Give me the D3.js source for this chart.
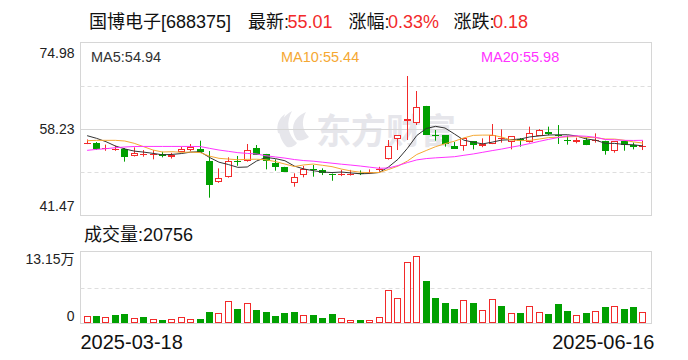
<!DOCTYPE html>
<html><head><meta charset="utf-8">
<script src="https://cdn.jsdelivr.net/npm/d3@7"></script>
<style>
body{margin:0;background:#fff}
svg{display:block}
text{font-family:"Liberation Sans","Noto Sans CJK SC",sans-serif}
</style>
</head><body><svg id="c" width="688" height="360"></svg>
<script>
const dates = ["2025-03-18","2025-03-19","2025-03-20","2025-03-21","2025-03-24","2025-03-25","2025-03-26","2025-03-27","2025-03-28","2025-03-31",
"2025-04-01","2025-04-02","2025-04-03","2025-04-07","2025-04-08","2025-04-09","2025-04-10","2025-04-11","2025-04-14","2025-04-15",
"2025-04-16","2025-04-17","2025-04-18","2025-04-21","2025-04-22","2025-04-23","2025-04-24","2025-04-25","2025-04-28","2025-04-29",
"2025-04-30","2025-05-06","2025-05-07","2025-05-08","2025-05-09","2025-05-12","2025-05-13","2025-05-14","2025-05-15","2025-05-16",
"2025-05-19","2025-05-20","2025-05-21","2025-05-22","2025-05-23","2025-05-26","2025-05-27","2025-05-28","2025-05-29","2025-05-30",
"2025-06-03","2025-06-04","2025-06-05","2025-06-06","2025-06-09","2025-06-10","2025-06-11","2025-06-12","2025-06-13","2025-06-16"];
const opens = [55.45,55.5,54.5,54.3,54.28,52.93,53.3,53.3,53.32,52.86,
53.77,54.09,54.35,52.02,47.89,48.86,52.1,51.96,54.48,53.32,
51.7,50.8,47.7,49.25,50.48,50.35,49.55,49.3,49.45,49.65,
49.75,50.2,52.35,56.35,59.84,59.32,62.68,57.05,57.0,54.87,
54.87,55.83,54.87,55.38,56.4,55.65,56.2,55.7,56.93,57.64,
57.05,56.05,55.7,56.09,55.83,55.9,54.02,55.83,55.06,54.95];
const highs = [56.2,55.7,55.2,55.0,54.54,54.67,54.15,54.15,53.83,53.6,
54.8,55.32,55.96,53.96,50.6,52.74,53.0,55.32,55.12,53.4,
52.35,50.9,49.64,51.06,51.25,50.6,49.6,50.3,50.3,50.2,
50.4,50.9,56.09,57.0,68.49,65.58,62.7,58.03,57.0,55.7,
56.41,55.83,56.41,59.19,58.16,56.8,56.48,58.68,58.2,58.68,
58.99,56.93,56.55,56.6,57.38,55.95,55.9,55.9,55.6,55.96];
const lows = [55.3,54.2,54.0,54.0,51.9,52.9,52.86,52.35,52.73,52.5,
53.7,53.9,53.7,44.92,47.8,48.8,51.1,51.9,53.2,50.41,
50.15,49.9,47.05,48.86,48.99,49.3,48.2,49.1,49.2,49.3,
49.5,49.96,52.3,54.15,56.09,59.0,57.1,55.96,54.8,54.41,
54.02,54.28,54.7,55.3,55.58,54.28,54.8,55.6,56.9,57.0,
55.32,55.19,55.45,55.1,55.58,53.25,53.64,54.02,54.28,54.15];
const closes = [55.6,54.35,54.6,54.4,52.87,53.51,53.35,53.4,52.99,53.25,
54.35,54.74,53.77,47.44,48.67,52.09,52.0,54.15,53.25,52.09,
50.93,49.96,48.99,50.48,50.4,49.63,49.45,49.5,49.6,49.55,
49.95,50.4,54.87,57.0,60.16,62.42,57.13,57.0,55.32,54.41,
56.41,55.19,55.38,57.0,56.4,56.78,55.9,57.38,57.96,57.32,
56.95,55.95,56.09,55.15,56.09,54.02,55.83,55.06,54.83,55.01];
const volumes = [13500,12300,11600,14100,15900,9800,10400,8000,4900,8000,
11600,8000,6700,19600,19000,41100,25100,37400,23300,19600,
12300,17800,19600,15300,14100,8600,15900,9800,6100,4900,
6100,11600,61300,46600,112800,122600,76600,45400,36200,25100,
42900,36200,24500,44700,30600,19000,17800,31900,20800,15900,
34300,21500,15300,17800,22700,28800,31900,25100,28800,20756];
// moving-average values before enough in-view closes exist
const ma5Head = [56.93,56.42,55.77,54.93];
const ma10Head = [55.96,56.03,56.03,56.03,55.9,55.45,54.8,54.15,53.77];
const ma20Head = [54.09,54.28,54.41,54.6,54.74,54.83,54.85,54.85,54.85,54.85,54.85,54.85,54.83,54.48,54.15,53.9,53.64,53.5,53.38];
const priceTicks = [74.98,58.23,41.47];
const volMax = 131500;
const volTicks = [131500,0];
const volTickLabels = ["13.15万","0"];
const titleName = "国博电子[688375]";
const titleFields = [["最新:","55.01"],["涨幅:","0.33%"],["涨跌:","0.18"]];
const maLabels = ["MA5:54.94","MA10:55.44","MA20:55.98"];
const volLabel = "成交量:20756";
const watermark = "东方财富";

const RED = "#f22a2a", GREEN = "#00a000";
const MA_COLORS = ["#333333","#f5a833","#ff33ff"];
const GRID = "#d6d6d6", DASH = "#dedede";

const svg = d3.select("#c");
const P = {l:80.5, r:651.5, t:42.5, b:215.5};
const V = {t:251.5, b:323.5};
const n = closes.length;

const x = d3.scaleBand().domain(d3.range(n)).range([82.4, 647.6]).paddingInner(0.22).paddingOuter(0.11);
const y = d3.scaleLinear().domain([priceTicks[2], priceTicks[0]]).range([P.b, P.t]);
const vy = d3.scaleLinear().domain([0, volMax]).range([V.b - 0.5, V.t]);
const bw = Math.round(x.bandwidth());
const left = i => Math.round(x(i) + x.bandwidth()/2 - bw/2);

// watermark
const wm = svg.append("g").attr("fill","#e6e6eb");
wm.append("path").attr("d","M287 147 C276 136 276 120 292 111 C286 122 287 134 297 143 C295 146 291 148 287 147 Z");
wm.append("path").attr("d","M297 140 C290 130 292 118 306 112 C301 121 302 130 309 137 C305 140 301 141 297 140 Z");
wm.append("path").attr("d","M278 133 C276 125 279 118 285 114 C282 122 283 128 286 135 Z");
wm.append("text").attr("x",316).attr("y",144).attr("font-size",35).attr("font-weight","bold")
  .attr("font-family","'Noto Sans CJK SC',sans-serif").text(watermark);

// frames and grid
function frame(t,b){
  svg.append("rect").attr("x",P.l).attr("y",t).attr("width",P.r-P.l).attr("height",b-t)
    .attr("fill","none").attr("stroke",GRID);
}
frame(P.t,P.b); frame(V.t,V.b);
const q = (P.b-P.t)/4;
[1,3].forEach(k=>svg.append("line").attr("x1",P.l).attr("x2",P.r).attr("y1",Math.round(P.t+k*q)+0.5).attr("y2",Math.round(P.t+k*q)+0.5)
  .attr("stroke",DASH).attr("stroke-dasharray","4,3"));
svg.append("line").attr("x1",P.l).attr("x2",P.r).attr("y1",Math.round(y(priceTicks[1]))+0.5).attr("y2",Math.round(y(priceTicks[1]))+0.5).attr("stroke",GRID);
const vm = Math.round((V.t+V.b)/2)+0.5;
svg.append("line").attr("x1",P.l).attr("x2",P.r).attr("y1",vm).attr("y2",vm).attr("stroke",DASH).attr("stroke-dasharray","4,3");

// candles
const cg = svg.append("g");
for(let i=0;i<n;i++){
  const up = closes[i] >= opens[i];
  const col = up ? RED : GREEN;
  const xl = left(i), xc = xl + Math.floor(bw/2) + 0.5;
  cg.append("line").attr("x1",xc).attr("x2",xc).attr("y1",y(highs[i])).attr("y2",y(lows[i])).attr("stroke",col);
  const yt = Math.round(y(Math.max(opens[i],closes[i]))), yb = Math.round(y(Math.min(opens[i],closes[i])));
  if (yb - yt < 2) {
    cg.append("rect").attr("x",xl).attr("y",yt).attr("width",bw).attr("height",Math.max(1,yb-yt)).attr("fill",col);
  } else if (up) {
    cg.append("rect").attr("x",xl+0.5).attr("y",yt+0.5).attr("width",bw-1).attr("height",yb-yt-1).attr("fill","#fff").attr("stroke",col);
  } else {
    cg.append("rect").attr("x",xl).attr("y",yt).attr("width",bw).attr("height",yb-yt).attr("fill",col);
  }
}

// moving averages
function ma(k, head){ return closes.map((c,i)=> i < k-1 ? head[i] : d3.mean(closes.slice(i-k+1,i+1))); }
const mas = [ma(5,ma5Head), ma(10,ma10Head), ma(20,ma20Head)];
const line = d3.line().x((d,i)=>x(i)+x.bandwidth()/2).y(d=>y(d));
mas.forEach((m,k)=>svg.append("path").attr("d",line(m)).attr("fill","none").attr("stroke",MA_COLORS[k]).attr("stroke-width",1));

// volume bars
const vg = svg.append("g");
for(let i=0;i<n;i++){
  const up = i===0 ? closes[i] >= opens[i] : closes[i] >= closes[i-1];
  const xl = left(i), top = Math.round(vy(volumes[i])), base = Math.round(V.b - 0.5);
  if (up) vg.append("rect").attr("x",xl+0.5).attr("y",top+0.5).attr("width",bw-1).attr("height",base-top-1).attr("fill","#fff").attr("stroke",RED);
  else vg.append("rect").attr("x",xl).attr("y",top).attr("width",bw).attr("height",base-top).attr("fill",GREEN);
}

// price axis
const ya = svg.append("g").attr("transform",`translate(${P.l-3},0)`)
  .call(d3.axisLeft(y).tickValues(priceTicks).tickSize(0).tickFormat(d3.format(".2f")));
ya.select(".domain").remove();
ya.selectAll("text").attr("font-size",14).attr("fill","#222").attr("font-family","'Liberation Sans',sans-serif")
  .attr("dy",(d,i)=> i===0 ? "1.05em" : i===2 ? "-0.35em" : "0.35em");
// volume axis
const va = svg.append("g").attr("transform",`translate(${P.l-3},0)`)
  .call(d3.axisLeft(vy).tickValues(volTicks).tickSize(0).tickFormat((d,i)=>volTickLabels[i]));
va.select(".domain").remove();
va.selectAll("text").attr("font-size",14).attr("fill","#222")
  .attr("dy",(d,i)=> i===0 ? "0.85em" : "-0.15em");

// title
const tt = svg.append("g").attr("font-size",18);
tt.append("text").attr("x",89).attr("y",28).attr("fill","#111").text(titleName);
const fx = [[248,287.5],[348.5,388],[453.5,493]];
titleFields.forEach((f,k)=>{
  tt.append("text").attr("x",fx[k][0]).attr("y",28).attr("fill","#111").text(f[0]);
  tt.append("text").attr("x",fx[k][1]).attr("y",28).attr("fill",RED).text(f[1]);
});
// MA labels
const mx = [91,281,481];
maLabels.forEach((t,k)=>svg.append("text").attr("x",mx[k]).attr("y",61.5).attr("font-size",14.5).attr("fill",k===0?"#333":MA_COLORS[k]).text(t));
// volume label
svg.append("text").attr("x",84).attr("y",240.5).attr("font-size",18).attr("fill","#111").text(volLabel);
// date axis
const xa = svg.append("g").attr("font-size",20).attr("fill","#111");
xa.append("text").attr("x",P.l).attr("y",349).attr("text-anchor","start").text(dates[0]);
xa.append("text").attr("x",P.r+3).attr("y",349).attr("text-anchor","end").text(dates[n-1]);
</script></body></html>
